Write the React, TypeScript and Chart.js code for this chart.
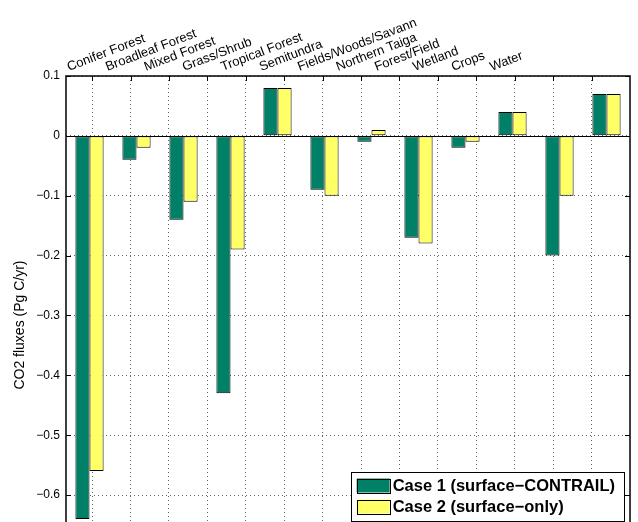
import React, { useEffect, useRef } from 'react';
import { Chart, registerables } from 'chart.js';

Chart.register(...registerables);

const categories = [
  'Conifer Forest',
  'Broadleaf Forest',
  'Mixed Forest',
  'Grass/Shrub',
  'Tropical Forest',
  'Semitundra',
  'Fields/Woods/Savann',
  'Northern Taiga',
  'Forest/Field',
  'Wetland',
  'Crops',
  'Water',
];
const case1Values = [-0.64, -0.04, -0.14, -0.43, 0.08, -0.09, -0.01, -0.17, -0.02, 0.04, -0.2, 0.07];
const case2Values = [-0.56, -0.02, -0.11, -0.19, 0.08, -0.1, 0.01, -0.18, -0.01, 0.04, -0.1, 0.07];
const seriesNames = ['Case 1 (surface\u2212CONTRAIL)', 'Case 2 (surface\u2212only)'];
const seriesColors = ['#008066', '#FFFF66'];
const yAxisTitle = 'CO2 fluxes (Pg C/yr)';
const yTickValues = [0.1, 0, -0.1, -0.2, -0.3, -0.4, -0.5, -0.6];
const yMin = -0.645;
const yMax = 0.1;
const gridTickValues = [1, 2, 3, 4, 5, 6, 7, 8, 9, 10, 11, 12, 13, 14];
const gridMin = 0.32;
const gridMax = 15;
const labelOffset = 0.4;
const titleCenterValue = -0.316;

const FONT = '"Liberation Sans", Arial, Helvetica, sans-serif';

function line(ctx: CanvasRenderingContext2D, x1: number, y1: number, x2: number, y2: number) {
  ctx.beginPath();
  ctx.moveTo(x1, y1);
  ctx.lineTo(x2, y2);
  ctx.stroke();
}

function fmtY(v: number) {
  const r = Math.round(v * 10) / 10;
  if (r === 0) return '0';
  return (r < 0 ? '\u2212' : '') + Math.abs(r).toString();
}

const overlay = {
  id: 'overlay',
  afterDraw(chart: any) {
    const { ctx, chartArea: a, scales } = chart;
    const y = scales.y;
    const xg = scales.xg;
    ctx.save();
    ctx.strokeStyle = '#000';
    ctx.lineWidth = 1;
    // zero baseline
    const y0 = Math.round(y.getPixelForValue(0)) + 0.5;
    line(ctx, a.left, y0, a.right, y0);
    // inward ticks
    y.ticks.forEach((t: any) => {
      const py = Math.round(y.getPixelForValue(t.value)) + 0.5;
      line(ctx, a.left, py, a.left + 5, py);
      line(ctx, a.right - 5, py, a.right, py);
    });
    xg.ticks.forEach((t: any) => {
      const px = Math.round(xg.getPixelForValue(t.value)) + 0.5;
      line(ctx, px, a.top, px, a.top + 5);
    });
    // frame
    ctx.lineWidth = 1.5;
    ctx.beginPath();
    ctx.moveTo(a.left, a.bottom + 2);
    ctx.lineTo(a.left, a.top);
    ctx.lineTo(a.right, a.top);
    ctx.lineTo(a.right, a.bottom + 2);
    ctx.stroke();

    // rotated category labels
    ctx.fillStyle = '#000';
    ctx.font = `13px ${FONT}`;
    ctx.textAlign = 'left';
    ctx.textBaseline = 'alphabetic';
    categories.forEach((c, i) => {
      const px = xg.getPixelForValue(i + labelOffset);
      ctx.save();
      ctx.translate(px, a.top - 5);
      ctx.rotate((-21 * Math.PI) / 180);
      ctx.fillText(c, 0, 0);
      ctx.restore();
    });

    // y axis title
    ctx.save();
    ctx.font = `14px ${FONT}`;
    ctx.textAlign = 'center';
    ctx.textBaseline = 'middle';
    ctx.translate(20, y.getPixelForValue(titleCenterValue));
    ctx.rotate(-Math.PI / 2);
    ctx.fillText(yAxisTitle, 0, 0);
    ctx.restore();

    // legend
    ctx.font = `bold 16.5px ${FONT}`;
    const maxW = Math.max(...seriesNames.map((s) => ctx.measureText(s).width));
    const boxRight = a.right - 6;
    const boxW = 42 + maxW + 9;
    const boxLeft = boxRight - boxW;
    const boxH = 49;
    const boxTop = a.bottom - boxH - 1;
    ctx.fillStyle = '#fff';
    ctx.fillRect(boxLeft, boxTop, boxW, boxH);
    ctx.lineWidth = 1;
    ctx.strokeStyle = '#000';
    ctx.strokeRect(Math.round(boxLeft) + 0.5, Math.round(boxTop) + 0.5, Math.round(boxW), boxH);
    seriesNames.forEach((s, i) => {
      const cy = boxTop + 13.5 + i * 21;
      ctx.fillStyle = seriesColors[i];
      ctx.fillRect(boxLeft + 6, cy - 7, 33, 14);
      ctx.strokeStyle = '#000';
      ctx.strokeRect(Math.round(boxLeft + 6) + 0.5, Math.round(cy - 7) + 0.5, 33, 14);
      ctx.fillStyle = '#000';
      ctx.textAlign = 'left';
      ctx.textBaseline = 'middle';
      ctx.fillText(s, boxLeft + 42, cy + 1);
    });
    ctx.restore();
  },
};

export default function App() {
  const ref = useRef<HTMLCanvasElement | null>(null);
  useEffect(() => {
    if (!ref.current) return;
    const chart = new Chart(ref.current, {
      type: 'bar',
      data: {
        labels: categories,
        datasets: [
          {
            label: seriesNames[0],
            data: case1Values,
            backgroundColor: seriesColors[0],
            borderColor: '#000',
            borderWidth: 1,
            borderSkipped: false,
            categoryPercentage: 0.6,
            barPercentage: 1.0,
          },
          {
            label: seriesNames[1],
            data: case2Values,
            backgroundColor: seriesColors[1],
            borderColor: '#000',
            borderWidth: 1,
            borderSkipped: false,
            categoryPercentage: 0.6,
            barPercentage: 1.0,
          },
        ],
      },
      options: {
        animation: false,
        responsive: true,
        maintainAspectRatio: false,
        layout: { padding: { top: 76, right: 8, left: 0, bottom: 0 }, autoPadding: false },
        plugins: { legend: { display: false }, tooltip: { enabled: false } },
        scales: {
          x: {
            type: 'category',
            display: false,
            offset: true,
          },
          xg: {
            type: 'linear',
            axis: 'x',
            position: 'top',
            offset: false,
            min: gridMin,
            max: gridMax,
            ticks: { display: false },
            grid: { drawTicks: false, color: '#666', offset: false },
            border: { display: false, dash: [1, 3] },
            afterBuildTicks: (s: any) => {
              s.min = gridMin;
              s.max = gridMax;
              s.ticks = gridTickValues.map((v) => ({ value: v }));
            },
            afterFit: (s: any) => {
              s.height = 0;
              s.paddingLeft = 0;
              s.paddingRight = 0;
              s.paddingTop = 0;
              s.paddingBottom = 0;
            },
          },
          y: {
            type: 'linear',
            min: yMin,
            max: yMax,
            ticks: {
              padding: 6,
              color: '#000',
              font: { family: FONT, size: 12 },
              callback: (v: any) => fmtY(Number(v)),
            },
            grid: { drawTicks: false, color: '#666' },
            border: { display: false, dash: [1, 3] },
            afterBuildTicks: (s: any) => {
              s.min = yMin;
              s.max = yMax;
              s.ticks = yTickValues.map((v) => ({ value: v }));
            },
            afterFit: (s: any) => {
              s.width = 66;
              s.paddingTop = 0;
              s.paddingBottom = 0;
              s.paddingLeft = 0;
              s.paddingRight = 0;
            },
          },
        },
      } as any,
      plugins: [overlay],
    });
    return () => chart.destroy();
  }, []);
  return (
    <div style={{ position: 'absolute', left: 0, top: 0, width: 638, height: 522, background: '#fff' }}>
      <canvas ref={ref} />
    </div>
  );
}
